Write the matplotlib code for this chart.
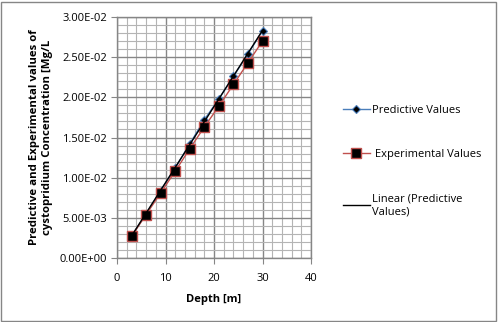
import matplotlib.pyplot as plt
from matplotlib.patches import Rectangle
from matplotlib.ticker import MultipleLocator, FuncFormatter
import numpy as np

depth = [3, 6, 9, 12, 15, 18, 21, 24, 27, 30]
predictive = [0.00275, 0.0055, 0.0084, 0.0112, 0.0142, 0.0172, 0.0198, 0.0226, 0.0254, 0.0283]
experimental = [0.0027, 0.0054, 0.0081, 0.0108, 0.0136, 0.0163, 0.0189, 0.0216, 0.0243, 0.0270]

plt.rcParams['font.family'] = ['Open Sans', 'DejaVu Sans']
plt.rcParams['font.size'] = 7.5

fig = plt.figure(figsize=(4.98, 3.22), dpi=100)
ax = fig.add_axes([117 / 498, 1 - 258 / 322, (311 - 117) / 498, (258 - 17) / 322])

# outer chart border
fig.patches.append(Rectangle((0.002, 0.003), 0.994, 0.992, transform=fig.transFigure,
                             fill=False, edgecolor='#868686', linewidth=1))

ax.set_xlim(0, 40)
ax.set_ylim(0, 0.03)
ax.xaxis.set_major_locator(MultipleLocator(10))
ax.xaxis.set_minor_locator(MultipleLocator(2))
ax.yaxis.set_major_locator(MultipleLocator(0.005))
ax.yaxis.set_minor_locator(MultipleLocator(0.001))
ax.grid(which='major', color='#868686', linewidth=1)
ax.grid(which='minor', color='#b4b4b4', linewidth=0.8)
ax.set_axisbelow(True)

ax.yaxis.set_major_formatter(FuncFormatter(lambda v, p: '%.2E' % v))
ax.tick_params(which='both', length=0, labelsize=8)
ax.tick_params(which='major', axis='y', length=4, pad=3, direction='out', color='#868686')
ax.tick_params(which='major', axis='x', length=4, pad=7, direction='out', color='#868686')
for s in ax.spines.values():
    s.set_color('#868686')
    s.set_linewidth(1)

ax.plot(depth, predictive, color='#4a7ebb', linewidth=1, marker='D', markersize=4,
        markerfacecolor='black', markeredgecolor='#4a7ebb', markeredgewidth=0.8, label='Predictive Values', zorder=3)
ax.plot(depth, experimental, color='#c0504d', linewidth=1, marker='s', markersize=6.5,
        markerfacecolor='black', markeredgecolor='#c0504d', markeredgewidth=1, label=' Experimental Values', zorder=3)

coef = np.polyfit(depth, predictive, 1)
xl = np.array([depth[0], depth[-1]])
ax.plot(xl, np.polyval(coef, xl), color='black', linewidth=1, label='Linear (Predictive\nValues)', zorder=4)

ax.set_xlabel('Depth [m]', fontweight='bold', fontsize=8, labelpad=7)
ax.set_ylabel('Predictive and Experimental values of\ncystopridium Concentration [Mg/L',
              fontweight='bold', fontsize=8.2, labelpad=5)

fig.legend(loc='center left', bbox_to_anchor=(333 / 498, 1 - 161 / 322), frameon=False,
           fontsize=8, labelspacing=3.0, handlelength=2.4, handletextpad=0.2)

fig.savefig('out.png', dpi=100)
